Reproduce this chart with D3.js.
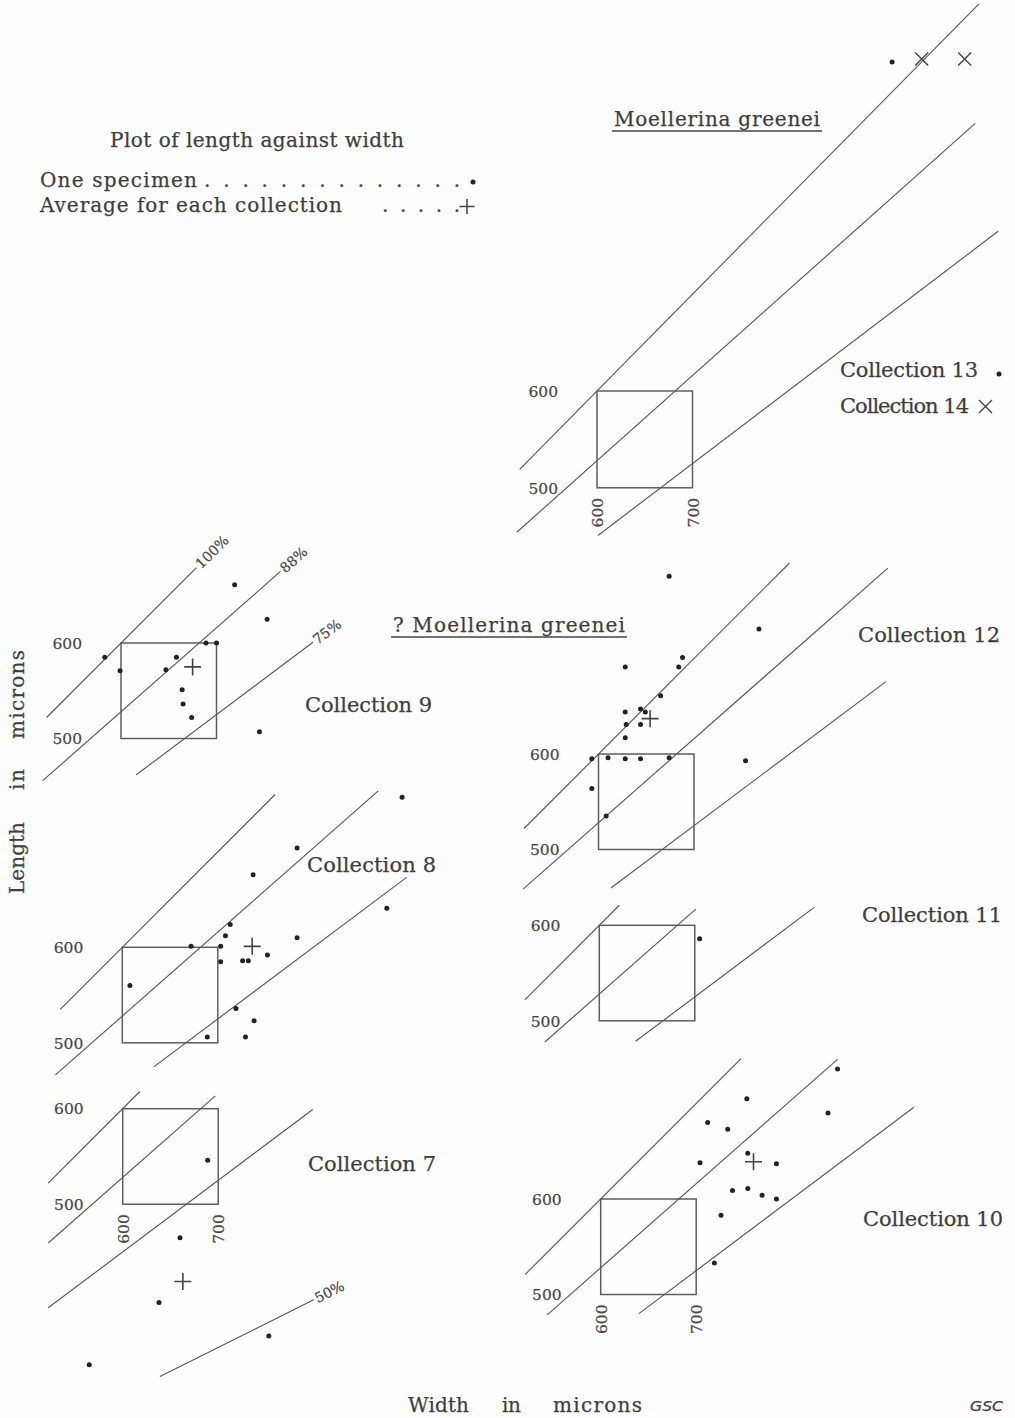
<!DOCTYPE html>
<html>
<head>
<meta charset="utf-8">
<script src="https://cdn.jsdelivr.net/npm/d3@7"></script>
<style>
  body { margin: 0; background: #fefefe; }
  svg text { font-family: "DejaVu Serif", serif; fill: #3e3e3e; stroke: #3e3e3e; stroke-width: 0.25px; }
  .tick text { font-size: 15.5px; fill: #474747; stroke: #474747; }
  .tag { font-size: 14px; fill: #4a4a4a; }
  .gsc { font-family: "DejaVu Sans", sans-serif; font-style: italic; }
</style>
</head>
<body>
<svg id="chart" width="1015" height="1418"></svg>
<script>
// ---- Measurements: [width, length] in microns, one entry per specimen ----
const collection7 = [[689,546],[660,465],[638,397],[565,332],[753,362]];
const collection8 = [[893,757],[783,704],[737,676],[877,641],[713,624],[708,612],[672,601],
  [703,601],[783,610],[752,592],[703,585],[726,586],[732,586],[608,560],[719,536],
  [738,523],[689,506],[729,506]];
const collection9 = [[583,585],[599,571],[647,572],[658,585],[689,600],[700,600],[664,551],
  [665,536],[674,522],[719,661],[753,625],[745,507]];
const collection10 = [[848,736],[753,705],[838,690],[712,680],[733,673],[754,648],[704,638],
  [784,637],[738,609],[754,611],[769,604],[784,600],[726,583],[719,533]];
const collection11 = [[705,586]];
const collection12 = [[674,786],[768,731],[688,701],[684,691],[628,691],[665,661],[628,644],
  [644,647],[649,644],[629,631],[644,631],[628,617],[593,595],[610,596],[628,595],
  [644,595],[674,596],[754,593],[593,564],[608,535]];
const collection13 = [[909,940]];
const collection14 = [[940,943],[985,943]];

// Collection averages [width, length]
const average7 = [663,419];
const average8 = [736,601];
const average9 = [675,575];
const average10 = [760,639];
const average12 = [654,637];

// Reference window and length/width ratio lines
const windowWidth = [600, 700];
const windowLength = [500, 600];
const ratioValues = [1.00, 0.88, 0.75];
const ratioLabels = ["100%", "88%", "75%"];
const lowRatioValue = 0.50;
const lowRatioLabel = "50%";
const tickValues = [500, 600];
const widthTickValues = [600, 700];

const INK = "#444", RULE = "#595959", DOT = "#222";
const svg = d3.select("#chart");

// ---- Panel layout: origin of the window's top-left corner, scale and line extents ----
const panels = [
  { x0: 597, y0: 391, sy: 0.968, spans: [[519,1000],[516,996],[601,1020]], widthTicks: true,
    groups: [{ data: collection13, mark: "dot" }, { data: collection14, mark: "cross" }] },
  { x0: 121, y0: 643, spans: [[522,679],[518,767],[616,801]], tagged: true,
    groups: [{ data: collection9, mark: "dot" }], average: average9 },
  { x0: 598.5, y0: 754, spans: [[522,800],[521,903],[613,901]],
    groups: [{ data: collection12, mark: "dot" }], average: average12 },
  { x0: 122.3, y0: 947.3, spans: [[535,760],[530,868],[633,898]],
    groups: [{ data: collection8, mark: "dot" }], average: average8 },
  { x0: 599.3, y0: 925.3, spans: [[522,621],[543,701],[638,825]],
    groups: [{ data: collection11, mark: "dot" }] },
  { x0: 122.7, y0: 1108.7, spans: [[522,618],[522,697],[522,799]], lowSpan: [639,800],
    widthTicks: true, groups: [{ data: collection7, mark: "dot" }], average: average7 },
  { x0: 600.7, y0: 1199, spans: [[521,747],[544,848],[640,928]], widthTicks: true,
    groups: [{ data: collection10, mark: "dot" }], average: average10 }
];

const plusPath = (cx, cy, r) => `M${cx - r},${cy}H${cx + r}M${cx},${cy - r}V${cy + r}`;
const crossPath = (cx, cy, r) => `M${cx - r},${cy - r}L${cx + r},${cy + r}M${cx - r},${cy + r}L${cx + r},${cy - r}`;

panels.forEach(p => {
  const sx = p.sx || 0.955, sy = p.sy || 0.955;
  const x = d3.scaleLinear().domain(windowWidth).range([p.x0, p.x0 + 100 * sx]);
  const y = d3.scaleLinear().domain(windowLength).range([p.y0 + 100 * sy, p.y0]);
  const g = svg.append("g");
  const line = d3.line().x(d => x(d[0])).y(d => y(d[1]));

  // reference window
  g.append("rect")
    .attr("x", x(windowWidth[0])).attr("y", y(windowLength[1]))
    .attr("width", x(windowWidth[1]) - x(windowWidth[0]))
    .attr("height", y(windowLength[0]) - y(windowLength[1]))
    .attr("fill", "none").attr("stroke", "#5e5e5e").attr("stroke-width", 1.5);

  // ratio lines: length = ratio × width
  const drawRatio = (k, span, label) => {
    const pts = span.map(w => [w, k * w]);
    g.append("path").attr("d", line(pts))
      .attr("fill", "none").attr("stroke", RULE).attr("stroke-width", 1.15);
    if (label) {
      const ex = x(pts[1][0]), ey = y(pts[1][1]);
      const ang = Math.atan2(ey - y(pts[0][1]), ex - x(pts[0][0])) * 180 / Math.PI;
      g.append("text").attr("class", "tag")
        .attr("transform", `translate(${ex},${ey}) rotate(${ang})`)
        .attr("x", 2).attr("dy", "0.35em").text(label);
    }
  };
  ratioValues.forEach((k, i) => drawRatio(k, p.spans[i], p.tagged ? ratioLabels[i] : null));
  if (p.lowSpan) drawRatio(lowRatioValue, p.lowSpan, lowRatioLabel);

  // length axis labels
  const la = g.append("g").attr("transform", `translate(${x(windowWidth[0])},0)`)
    .call(d3.axisLeft(y).tickValues(tickValues).tickSize(0).tickPadding(39));
  la.select(".domain").remove();
  la.selectAll("text").attr("dy", "0.34em");

  // width axis labels, turned upright
  if (p.widthTicks) {
    const wa = g.append("g").attr("transform", `translate(0,${y(windowLength[0])})`)
      .call(d3.axisBottom(x).tickValues(widthTickValues).tickSize(0));
    wa.select(".domain").remove();
    wa.selectAll("text")
      .attr("transform", "rotate(-90)").attr("x", -10).attr("y", 0)
      .attr("dy", "0.36em").attr("text-anchor", "end");
  }

  // specimens
  p.groups.forEach(grp => {
    if (grp.mark === "dot") {
      g.selectAll(null).data(grp.data).join("circle")
        .attr("cx", d => x(d[0])).attr("cy", d => y(d[1])).attr("r", 2.5).attr("fill", DOT);
    } else {
      g.selectAll(null).data(grp.data).join("path")
        .attr("d", d => crossPath(x(d[0]), y(d[1]), 6.5))
        .attr("stroke", INK).attr("stroke-width", 1.4).attr("fill", "none");
    }
  });

  // collection average
  if (p.average) {
    g.append("path").attr("d", plusPath(x(p.average[0]), y(p.average[1]), 8.5))
      .attr("stroke", INK).attr("stroke-width", 1.6).attr("fill", "none");
  }
});

// ---- Collection captions ----
const captions = [
  { text: "Collection 13", x: 840, y: 377, w: 138 },
  { text: "Collection 14", x: 840, y: 413, w: 129 },
  { text: "Collection 12", x: 858, y: 642, w: 142 },
  { text: "Collection 9", x: 305, y: 712, w: 127 },
  { text: "Collection 8", x: 307, y: 872, w: 129 },
  { text: "Collection 11", x: 862, y: 922, w: 140 },
  { text: "Collection 7", x: 308, y: 1171, w: 128 },
  { text: "Collection 10", x: 863, y: 1226, w: 140 }
];
svg.selectAll(null).data(captions).join("text")
  .attr("x", d => d.x).attr("y", d => d.y)
  .attr("textLength", d => d.w).attr("lengthAdjust", "spacing")
  .attr("font-size", 21).text(d => d.text);
svg.append("circle").attr("cx", 999).attr("cy", 374).attr("r", 2.5).attr("fill", DOT);
svg.append("path").attr("d", crossPath(985.5, 406.5, 6.5))
  .attr("stroke", INK).attr("stroke-width", 1.4).attr("fill", "none");

// ---- Titles ----
const title = (t, x0, y0, w, ux0, ux1, uy) => {
  svg.append("text").attr("x", x0).attr("y", y0).attr("font-size", 20)
    .attr("textLength", w).attr("lengthAdjust", "spacing").text(t);
  svg.append("line").attr("x1", ux0).attr("x2", ux1).attr("y1", uy).attr("y2", uy)
    .attr("stroke", INK).attr("stroke-width", 1.5);
};
title("Moellerina greenei", 614, 126, 206, 612, 822, 131);
title("? Moellerina greenei", 393, 632, 232, 391, 627, 637);

// ---- Key ----
const key = svg.append("g").attr("font-size", 20);
key.append("text").attr("x", 110).attr("y", 147).attr("textLength", 294)
  .attr("lengthAdjust", "spacing").text("Plot of length against width");
key.append("text").attr("x", 40).attr("y", 187).attr("textLength", 157)
  .attr("lengthAdjust", "spacing").text("One specimen");
key.append("text").attr("x", 204).attr("y", 187).attr("textLength", 256)
  .attr("lengthAdjust", "spacing").text(". . . . . . . . . . . . . .");
key.append("circle").attr("cx", 473).attr("cy", 182).attr("r", 2.5).attr("fill", DOT);
key.append("text").attr("x", 40).attr("y", 212).attr("textLength", 302)
  .attr("lengthAdjust", "spacing").text("Average for each collection");
key.append("text").attr("x", 382).attr("y", 212).attr("textLength", 78)
  .attr("lengthAdjust", "spacing").text(". . . . .");
key.append("path").attr("d", plusPath(467, 206.5, 7.5))
  .attr("stroke", INK).attr("stroke-width", 1.5).attr("fill", "none");

// ---- Axis titles ----
[["Length", 894, 72], ["in", 790, 21], ["microns", 739, 89]].forEach(([t, y0, w]) => {
  svg.append("text").attr("transform", `translate(24,${y0}) rotate(-90)`)
    .attr("font-size", 20).attr("textLength", w).attr("lengthAdjust", "spacing").text(t);
});
[["Width", 408, 61], ["in", 502, 19], ["microns", 553, 89]].forEach(([t, x0, w]) => {
  svg.append("text").attr("x", x0).attr("y", 1412)
    .attr("font-size", 20).attr("textLength", w).attr("lengthAdjust", "spacing").text(t);
});
svg.append("text").attr("class", "gsc").attr("x", 970).attr("y", 1411)
  .attr("font-size", 14).attr("textLength", 33).attr("lengthAdjust", "spacingAndGlyphs").text("GSC");
</script>
</body>
</html>
